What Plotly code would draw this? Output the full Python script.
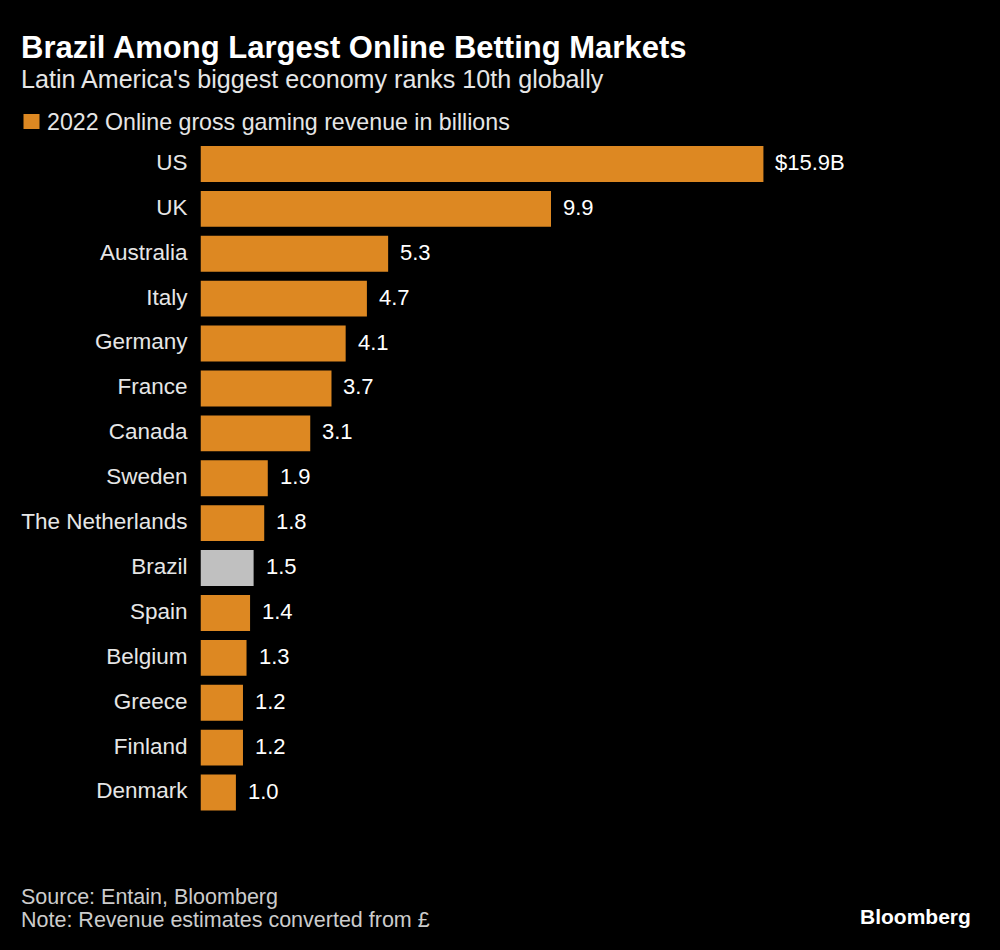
import plotly.graph_objects as go

countries = ["US", "UK", "Australia", "Italy", "Germany", "France", "Canada", "Sweden",
             "The Netherlands", "Brazil", "Spain", "Belgium", "Greece", "Finland", "Denmark"]
revenue = [15.9, 9.9, 5.3, 4.7, 4.1, 3.7, 3.1, 1.9, 1.8, 1.5, 1.4, 1.3, 1.2, 1.2, 1.0]
value_labels = ["$15.9B", "9.9", "5.3", "4.7", "4.1", "3.7", "3.1", "1.9", "1.8", "1.5", "1.4", "1.3", "1.2", "1.2", "1.0"]

ORANGE = "#dd8822"
GREY = "#c0c0c0"
FONT = "Liberation Sans"
colors = [GREY if c == "Brazil" else ORANGE for c in countries]

fig = go.Figure(go.Bar(
    x=revenue, y=countries, orientation="h",
    marker=dict(color=colors, line_width=0),
    width=0.8,
))

fig.update_layout(
    width=1000, height=950,
    paper_bgcolor="black", plot_bgcolor="black",
    margin=dict(l=0, r=0, t=0, b=0),
    showlegend=False,
    font=dict(family=FONT, color="white"),
)
fig.update_xaxes(domain=[0.2005, 0.95], range=[0, 21.17], visible=False)
fig.update_yaxes(domain=[1 - 815 / 950, 1 - 141.5 / 950], autorange="reversed", showgrid=False,
                 ticks="", showline=False, zeroline=False, ticklabelstandoff=12, ticklabelshift=2,
                 tickfont=dict(color="#e6e6e6", size=22.5, family=FONT))

# value labels, pushed off the bar ends
for c, v, lab in zip(countries, revenue, value_labels):
    fig.add_annotation(text=lab, x=v, y=c, xanchor="left", xshift=10, yshift=1.5, showarrow=False,
                       font=dict(size=22, color="white", family=FONT))


def paper_text(text, x, y, size, color, **kw):
    fig.add_annotation(text=text, xref="paper", yref="paper", x=x, y=1 - y / 950,
                       yanchor="middle", showarrow=False, align="left",
                       font=dict(size=size, color=color, family=FONT),
                       xanchor=kw.pop("xanchor", "left"))


paper_text("<b>Brazil Among Largest Online Betting Markets</b>", 0.019, 48, 31, "white")
paper_text("Latin America's biggest economy ranks 10th globally", 0.019, 79, 25.1, "#e6e6e6")
paper_text("2022 Online gross gaming revenue in billions", 0.045, 122, 23.2, "#e6e6e6")
fig.add_shape(type="rect", xref="paper", yref="paper", x0=0.0235, x1=0.0395,
              y0=1 - 129 / 950, y1=1 - 114 / 950, fillcolor=ORANGE, line_width=0)
paper_text("Source: Entain, Bloomberg", 0.019, 897, 21.5, "#cccccc")
paper_text("Note: Revenue estimates converted from £", 0.019, 920, 21.5, "#cccccc")
paper_text("<b>Bloomberg</b>", 0.973, 916, 21, "white", xanchor="right")

fig.write_html("out.html", config=dict(displayModeBar=False),
               post_script="document.body.style.margin='0';document.body.style.background='black';")
